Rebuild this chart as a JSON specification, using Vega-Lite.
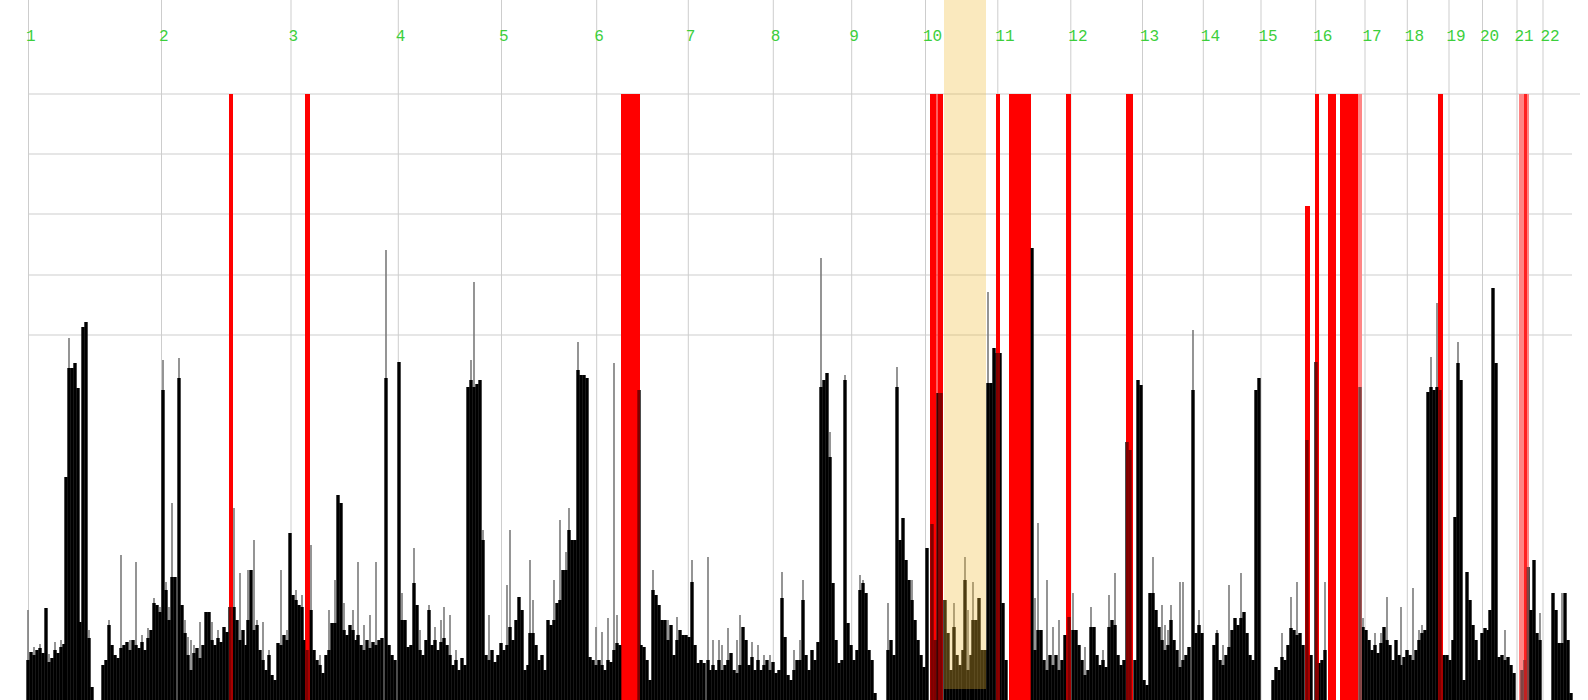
{
  "$schema": "https://vega.github.io/schema/vega-lite/v6.json",
  "width": 1588,
  "height": 700,
  "padding": 0,
  "autosize": {"type": "none"},
  "background": "#ffffff",
  "config": {"view": {"stroke": null}},
  "datasets": {
    "chroms": [
      {"c": "1", "p": 28.5}, {"c": "2", "p": 161.5}, {"c": "3", "p": 291}, {"c": "4", "p": 398.3},
      {"c": "5", "p": 501.5}, {"c": "6", "p": 596.7}, {"c": "7", "p": 688.3}, {"c": "8", "p": 773.3},
      {"c": "9", "p": 851.7}, {"c": "10", "p": 925.5}, {"c": "11", "p": 997.8}, {"c": "12", "p": 1070.8},
      {"c": "13", "p": 1142.5}, {"c": "14", "p": 1203.3}, {"c": "15", "p": 1261}, {"c": "16", "p": 1315.7},
      {"c": "17", "p": 1365}, {"c": "18", "p": 1407.3}, {"c": "19", "p": 1449}, {"c": "20", "p": 1482.5},
      {"c": "21", "p": 1517}, {"c": "22", "p": 1543}
    ],
    "grid": [
      {"g": 606, "a": 28.5, "b": 1580},
      {"g": 546, "a": 28.5, "b": 1572},
      {"g": 486, "a": 28.5, "b": 1572},
      {"g": 425, "a": 28.5, "b": 1572},
      {"g": 365, "a": 28.5, "b": 1572}
    ],
    "reds": [
      {"s": 229, "e": 233, "t": 606, "k": "r"},
      {"s": 305, "e": 310, "t": 606, "k": "r"},
      {"s": 621, "e": 640, "t": 606, "k": "r"},
      {"s": 930, "e": 936.5, "t": 606, "k": "r"},
      {"s": 937.5, "e": 943, "t": 606, "k": "r"},
      {"s": 996, "e": 1000, "t": 606, "k": "r"},
      {"s": 1009, "e": 1031, "t": 606, "k": "r"},
      {"s": 1066, "e": 1071, "t": 606, "k": "r"},
      {"s": 1126, "e": 1133, "t": 606, "k": "r"},
      {"s": 1305, "e": 1310, "t": 494, "k": "r"},
      {"s": 1315, "e": 1319, "t": 606, "k": "r"},
      {"s": 1328, "e": 1336, "t": 606, "k": "r"},
      {"s": 1340, "e": 1358, "t": 606, "k": "r"},
      {"s": 1358, "e": 1362, "t": 606, "k": "p"},
      {"s": 1438, "e": 1443, "t": 606, "k": "r"},
      {"s": 1519, "e": 1529, "t": 606, "k": "p"},
      {"s": 1524, "e": 1527, "t": 606, "k": "r"}
    ],
    "band": [{"s": 944, "e": 986, "t": 700, "b": 11}],
    "bars": [
      {"p":28,"v":40,"g":90},{"p":31,"v":48},{"p":34,"v":45,"g":53},{"p":37,"v":50},{"p":40,"v":52,"g":56},
      {"p":43,"v":47},{"p":46,"v":92},{"p":49,"v":38,"g":46},{"p":52,"v":42},{"p":55,"v":50,"g":58},
      {"p":58,"v":47},{"p":61,"v":53,"g":60},{"p":64,"v":56},{"p":66,"v":223},{"p":69,"v":332,"g":362},
      {"p":72,"v":332},{"p":75,"v":337},{"p":78,"v":312},{"p":80,"v":78},{"p":83,"v":373},
      {"p":86,"v":378},{"p":89,"v":62,"g":70},{"p":92,"v":13},
      {"p":103,"v":35},{"p":106,"v":40},{"p":109,"v":75,"g":80},{"p":112,"v":55},{"p":115,"v":45},
      {"p":118,"v":42},{"p":121,"v":52,"g":145},{"p":124,"v":55},{"p":127,"v":58},{"p":130,"v":50,"g":60},
      {"p":133,"v":60},{"p":136,"v":55,"g":138},{"p":139,"v":52},{"p":142,"v":58,"g":65},{"p":145,"v":50},
      {"p":148,"v":62,"g":72},{"p":151,"v":70},{"p":154,"v":97,"g":102},{"p":157,"v":95},{"p":160,"v":88,"g":93},
      {"p":163,"v":310,"g":340},{"p":166,"v":110,"g":118},{"p":169,"v":80,"g":93},{"p":172,"v":123,"g":197},
      {"p":175,"v":123},{"p":179,"v":322,"g":342},{"p":182,"v":95},{"p":185,"v":67,"g":80},{"p":188,"v":45,"g":63},
      {"p":191,"v":30,"g":60},{"p":194,"v":47,"g":55},{"p":197,"v":52},{"p":200,"v":42,"g":78},{"p":203,"v":55},
      {"p":206,"v":88},{"p":209,"v":88},{"p":212,"v":60,"g":78},{"p":215,"v":55},{"p":218,"v":62,"g":70},
      {"p":221,"v":58},{"p":224,"v":73},{"p":227,"v":68},{"p":230,"v":93},{"p":234,"v":93,"g":192},
      {"p":237,"v":80},{"p":240,"v":60,"g":127},{"p":243,"v":70},{"p":246,"v":55},{"p":248,"v":80,"g":130},
      {"p":251,"v":130},{"p":254,"v":70,"g":160},{"p":257,"v":75,"g":80},{"p":260,"v":50},{"p":263,"v":40,"g":78},
      {"p":266,"v":30},{"p":269,"v":45,"g":50},{"p":272,"v":25},{"p":275,"v":20},{"p":278,"v":57},
      {"p":281,"v":55,"g":130},{"p":284,"v":65},{"p":287,"v":60,"g":70},{"p":290,"v":167},{"p":293,"v":105},
      {"p":296,"v":100,"g":110},{"p":299,"v":95},{"p":302,"v":93,"g":105},{"p":304,"v":60},{"p":307,"v":50},
      {"p":311,"v":90,"g":155},{"p":314,"v":50},{"p":317,"v":40},{"p":320,"v":35,"g":45},{"p":323,"v":27},
      {"p":326,"v":45},{"p":329,"v":50,"g":90},{"p":332,"v":77},{"p":335,"v":77,"g":120},{"p":338,"v":205},
      {"p":341,"v":197},{"p":344,"v":70,"g":97},{"p":347,"v":65},{"p":350,"v":75},{"p":353,"v":70,"g":90},
      {"p":356,"v":60},{"p":358,"v":65,"g":138},{"p":361,"v":55},{"p":364,"v":50,"g":75},{"p":367,"v":60},
      {"p":370,"v":52,"g":85},{"p":373,"v":58},{"p":376,"v":55,"g":138},{"p":379,"v":60},{"p":382,"v":62},
      {"p":386,"v":322,"g":450},{"p":389,"v":55},{"p":392,"v":45},{"p":395,"v":40},{"p":399,"v":338},
      {"p":402,"v":80,"g":107},{"p":405,"v":80},{"p":408,"v":53},{"p":411,"v":55},{"p":414,"v":117,"g":152},
      {"p":417,"v":95},{"p":420,"v":50,"g":70},{"p":423,"v":45},{"p":426,"v":60},{"p":429,"v":90,"g":95},
      {"p":432,"v":55},{"p":435,"v":60,"g":73},{"p":438,"v":50},{"p":441,"v":58,"g":80},{"p":444,"v":62,"g":93},
      {"p":447,"v":55},{"p":450,"v":45,"g":85},{"p":453,"v":35},{"p":456,"v":40,"g":50},{"p":459,"v":30},
      {"p":462,"v":42},{"p":465,"v":35},{"p":468,"v":313},{"p":471,"v":320,"g":340},{"p":474,"v":313,"g":418},
      {"p":477,"v":316},{"p":480,"v":320},{"p":483,"v":160,"g":170},{"p":486,"v":45},{"p":489,"v":40,"g":85},
      {"p":492,"v":50},{"p":495,"v":38},{"p":498,"v":45},{"p":501,"v":57},{"p":504,"v":50},
      {"p":507,"v":55,"g":115},{"p":510,"v":73,"g":170},{"p":513,"v":60},{"p":516,"v":80},{"p":519,"v":103},
      {"p":522,"v":90},{"p":525,"v":30},{"p":528,"v":35},{"p":530,"v":67,"g":140},{"p":533,"v":67,"g":100},
      {"p":536,"v":55},{"p":539,"v":40},{"p":542,"v":45},{"p":545,"v":30},{"p":548,"v":80},
      {"p":551,"v":75},{"p":554,"v":80,"g":120},{"p":557,"v":97},{"p":560,"v":100,"g":180},{"p":563,"v":130},
      {"p":566,"v":130,"g":148},{"p":569,"v":170,"g":192},{"p":572,"v":160},{"p":575,"v":160},{"p":578,"v":330,"g":358},
      {"p":581,"v":325},{"p":584,"v":325},{"p":587,"v":322},{"p":590,"v":43},{"p":593,"v":40},
      {"p":596,"v":35,"g":73},{"p":599,"v":40},{"p":602,"v":35,"g":68},{"p":605,"v":30},{"p":608,"v":40,"g":82},
      {"p":611,"v":38},{"p":614,"v":50,"g":337},{"p":617,"v":57,"g":85},{"p":620,"v":55},
      {"p":639,"v":310},
      {"p":641,"v":55},{"p":644,"v":53},{"p":647,"v":40},{"p":650,"v":20},{"p":653,"v":110,"g":130},
      {"p":656,"v":105},{"p":659,"v":95},{"p":662,"v":80},{"p":665,"v":80},{"p":668,"v":60,"g":80},
      {"p":671,"v":75},{"p":674,"v":45},{"p":677,"v":60,"g":83},{"p":680,"v":70},{"p":683,"v":65},
      {"p":686,"v":65},{"p":689,"v":63},{"p":692,"v":118,"g":140},{"p":695,"v":55},{"p":698,"v":37},
      {"p":701,"v":40},{"p":704,"v":37},{"p":708,"v":40,"g":143},{"p":710,"v":30},
      {"p":713,"v":35,"g":60},{"p":716,"v":30},{"p":719,"v":40,"g":60},{"p":722,"v":30,"g":55},{"p":725,"v":35},
      {"p":728,"v":40,"g":72},{"p":731,"v":47},{"p":734,"v":30},{"p":737,"v":27,"g":60},{"p":740,"v":35,"g":85},
      {"p":743,"v":73},{"p":746,"v":60},{"p":749,"v":35},{"p":752,"v":43,"g":58},{"p":755,"v":30},
      {"p":758,"v":40,"g":55},{"p":761,"v":30},{"p":764,"v":35,"g":45},{"p":767,"v":40},{"p":770,"v":30,"g":45},
      {"p":773,"v":38},{"p":776,"v":27},{"p":779,"v":30},{"p":782,"v":102,"g":128},{"p":785,"v":63},
      {"p":788,"v":25},{"p":791,"v":20},{"p":794,"v":30,"g":50},{"p":797,"v":40},{"p":800,"v":40,"g":60},
      {"p":803,"v":100,"g":120},{"p":806,"v":45},{"p":809,"v":30},{"p":812,"v":50},{"p":815,"v":40},
      {"p":818,"v":58},{"p":821,"v":313,"g":442},{"p":824,"v":320},{"p":827,"v":327},{"p":830,"v":243,"g":268},
      {"p":833,"v":117},{"p":836,"v":60},{"p":839,"v":37},{"p":842,"v":40},{"p":845,"v":320,"g":325},
      {"p":848,"v":77},{"p":851,"v":55},{"p":854,"v":40},{"p":857,"v":50},{"p":860,"v":110,"g":125},
      {"p":863,"v":117,"g":120},{"p":866,"v":107},{"p":869,"v":50},{"p":872,"v":40},{"p":875,"v":7},
      {"p":888,"v":50,"g":97},{"p":891,"v":60},{"p":894,"v":45},{"p":897,"v":313,"g":333},{"p":900,"v":160},
      {"p":903,"v":182},{"p":906,"v":140},{"p":909,"v":120},{"p":912,"v":100,"g":120},{"p":915,"v":80},
      {"p":918,"v":60},{"p":921,"v":45},{"p":924,"v":33},{"p":927,"v":152},{"p":932,"v":176},
      {"p":935,"v":60},{"p":938,"v":307},{"p":941,"v":307},
      {"p":945,"v":100},{"p":948,"v":67},{"p":951,"v":30},{"p":954,"v":73,"g":97},{"p":957,"v":45},
      {"p":960,"v":35},{"p":963,"v":50},{"p":965,"v":120,"g":143},{"p":968,"v":30,"g":90},{"p":971,"v":45},
      {"p":973,"v":80,"g":118},{"p":976,"v":80},{"p":979,"v":102},{"p":982,"v":50},{"p":985,"v":50},
      {"p":988,"v":317,"g":408},{"p":991,"v":317},{"p":994,"v":352},{"p":997,"v":347},{"p":1000,"v":347},
      {"p":1003,"v":97},{"p":1006,"v":40},{"p":1032,"v":452},
      {"p":1035,"v":50,"g":102},{"p":1038,"v":70,"g":177},{"p":1041,"v":70},{"p":1044,"v":40},{"p":1047,"v":30,"g":120},
      {"p":1050,"v":45},{"p":1053,"v":35,"g":73},{"p":1056,"v":45},{"p":1059,"v":30,"g":80},{"p":1062,"v":40},
      {"p":1065,"v":65},{"p":1069,"v":83},{"p":1073,"v":70,"g":107},{"p":1076,"v":70},{"p":1079,"v":55},
      {"p":1082,"v":40},{"p":1085,"v":25,"g":53},{"p":1088,"v":30},{"p":1091,"v":73,"g":93},{"p":1094,"v":73},
      {"p":1097,"v":45},{"p":1100,"v":35},{"p":1103,"v":40,"g":50},{"p":1106,"v":33},{"p":1109,"v":73,"g":105},
      {"p":1112,"v":80},{"p":1115,"v":75,"g":127},{"p":1118,"v":45},{"p":1121,"v":35},{"p":1124,"v":40},
      {"p":1127,"v":258},{"p":1130,"v":250},{"p":1135,"v":40},{"p":1138,"v":320},{"p":1141,"v":315},
      {"p":1144,"v":20},{"p":1147,"v":15},{"p":1150,"v":107},{"p":1153,"v":107,"g":143},{"p":1156,"v":90},
      {"p":1159,"v":73},{"p":1162,"v":60,"g":95},{"p":1165,"v":50,"g":75},{"p":1168,"v":55,"g":70},
      {"p":1171,"v":80,"g":95},{"p":1174,"v":60},{"p":1177,"v":50},{"p":1180,"v":33,"g":118},{"p":1183,"v":40,"g":118},
      {"p":1186,"v":45},{"p":1189,"v":53},{"p":1193,"v":310,"g":370},{"p":1196,"v":67},{"p":1199,"v":75,"g":90},
      {"p":1202,"v":67},{"p":1214,"v":55},{"p":1217,"v":67,"g":70},{"p":1220,"v":40},{"p":1223,"v":35,"g":55},
      {"p":1226,"v":45},{"p":1229,"v":53,"g":115},{"p":1232,"v":70},{"p":1235,"v":82},{"p":1238,"v":75},
      {"p":1241,"v":82,"g":127},{"p":1244,"v":88},{"p":1247,"v":67},{"p":1250,"v":45},{"p":1253,"v":40},
      {"p":1256,"v":310},{"p":1259,"v":322},
      {"p":1273,"v":20},{"p":1276,"v":33},{"p":1279,"v":30},{"p":1282,"v":43,"g":67},{"p":1285,"v":40},
      {"p":1288,"v":55},{"p":1291,"v":72,"g":103},{"p":1294,"v":70},{"p":1297,"v":65,"g":118},{"p":1300,"v":67},
      {"p":1303,"v":55},{"p":1307,"v":260},{"p":1311,"v":45},{"p":1316,"v":338},{"p":1319,"v":37},
      {"p":1322,"v":40},{"p":1325,"v":50,"g":118},{"p":1360,"v":313},
      {"p":1363,"v":73,"g":82},{"p":1366,"v":70},{"p":1369,"v":60},{"p":1372,"v":50},{"p":1375,"v":55,"g":67},
      {"p":1378,"v":47},{"p":1381,"v":57,"g":67},{"p":1384,"v":73},{"p":1387,"v":60,"g":103},{"p":1390,"v":55},
      {"p":1393,"v":40},{"p":1396,"v":60},{"p":1399,"v":45},
      {"p":1401,"v":35,"g":93},{"p":1404,"v":43},{"p":1407,"v":50},{"p":1410,"v":45},{"p":1413,"v":40,"g":112},
      {"p":1416,"v":50},{"p":1419,"v":60,"g":70},{"p":1422,"v":67,"g":75},{"p":1425,"v":70},{"p":1428,"v":308},
      {"p":1431,"v":313,"g":343},{"p":1434,"v":310},{"p":1437,"v":313,"g":397},{"p":1440,"v":310},
      {"p":1444,"v":45},{"p":1447,"v":45},{"p":1450,"v":40},{"p":1453,"v":60},{"p":1455,"v":183},
      {"p":1458,"v":337,"g":358},{"p":1461,"v":320},{"p":1464,"v":20},{"p":1467,"v":128},{"p":1470,"v":100},
      {"p":1473,"v":75},{"p":1476,"v":60},{"p":1479,"v":40},{"p":1482,"v":67},{"p":1485,"v":72},
      {"p":1488,"v":70},{"p":1490,"v":90},{"p":1493,"v":412},{"p":1496,"v":337},{"p":1499,"v":43},
      {"p":1502,"v":45},{"p":1505,"v":40,"g":70},{"p":1508,"v":43},{"p":1511,"v":35},{"p":1514,"v":27},
      {"p":1522,"v":30},{"p":1525,"v":40},{"p":1528,"v":133},{"p":1531,"v":90},{"p":1534,"v":140},
      {"p":1537,"v":67},{"p":1540,"v":60,"g":87},
      {"p":1553,"v":107},{"p":1556,"v":90},{"p":1559,"v":57},{"p":1562,"v":57,"g":107},{"p":1565,"v":107},
      {"p":1568,"v":60},{"p":1571,"v":7}
    ]
  },
  "layer": [
    {
      "data": {"name": "chroms"},
      "mark": {"type": "rule", "color": "#cdcdcd", "strokeWidth": 1},
      "encoding": {
        "x": {"field": "p", "type": "quantitative", "scale": {"domain": [0, 1588], "nice": false, "zero": false, "padding": 0}, "axis": null}
      }
    },
    {
      "data": {"name": "grid"},
      "mark": {"type": "rule", "color": "#cdcdcd", "strokeWidth": 1},
      "encoding": {
        "x": {"field": "a", "type": "quantitative", "scale": {"domain": [0, 1588], "nice": false, "zero": false, "padding": 0}, "axis": null},
        "x2": {"field": "b"},
        "y": {"field": "g", "type": "quantitative", "scale": {"domain": [0, 700], "nice": false}, "axis": null}
      }
    },
    {
      "data": {"name": "reds"},
      "mark": {"type": "rect"},
      "encoding": {
        "x": {"field": "s", "type": "quantitative", "scale": {"domain": [0, 1588], "nice": false, "zero": false, "padding": 0}, "axis": null},
        "x2": {"field": "e"},
        "y": {"field": "t", "type": "quantitative", "scale": {"domain": [0, 700], "nice": false}, "axis": null},
        "y2": {"datum": 0},
        "color": {"field": "k", "type": "nominal", "scale": {"domain": ["r", "p"], "range": ["#ff0000", "#ff8585"]}, "legend": null}
      }
    },
    {
      "data": {"name": "bars"},
      "mark": {"type": "bar", "width": 1.6, "color": "#7a7a7a"},
      "encoding": {
        "x": {"field": "p", "type": "quantitative", "scale": {"domain": [0, 1588], "nice": false, "zero": false, "padding": 0}, "axis": null},
        "y": {"field": "g", "type": "quantitative", "scale": {"domain": [0, 700], "nice": false}, "axis": null}
      }
    },
    {
      "data": {"name": "bars"},
      "mark": {"type": "bar", "width": 3.4, "color": "#000000"},
      "encoding": {
        "x": {"field": "p", "type": "quantitative", "scale": {"domain": [0, 1588], "nice": false, "zero": false, "padding": 0}, "axis": null},
        "y": {"field": "v", "type": "quantitative", "scale": {"domain": [0, 700], "nice": false}, "axis": null}
      }
    },
    {
      "data": {"name": "reds"},
      "mark": {"type": "rect", "opacity": 0.5},
      "encoding": {
        "x": {"field": "s", "type": "quantitative", "scale": {"domain": [0, 1588], "nice": false, "zero": false, "padding": 0}, "axis": null},
        "x2": {"field": "e"},
        "y": {"field": "t", "type": "quantitative", "scale": {"domain": [0, 700], "nice": false}, "axis": null},
        "y2": {"datum": 0},
        "color": {"field": "k", "type": "nominal", "scale": {"domain": ["r", "p"], "range": ["#ff0000", "#ff8585"]}, "legend": null}
      }
    },
    {
      "data": {"name": "band"},
      "mark": {"type": "rect", "color": "#efbb34", "opacity": 0.32},
      "encoding": {
        "x": {"field": "s", "type": "quantitative", "scale": {"domain": [0, 1588], "nice": false, "zero": false, "padding": 0}, "axis": null},
        "x2": {"field": "e"},
        "y": {"field": "t", "type": "quantitative", "scale": {"domain": [0, 700], "nice": false}, "axis": null},
        "y2": {"field": "b"}
      }
    },
    {
      "data": {"name": "chroms"},
      "mark": {"type": "text", "align": "left", "baseline": "middle", "dx": -2.5, "font": "Liberation Mono", "fontSize": 16, "color": "#3ccf3c"},
      "encoding": {
        "x": {"field": "p", "type": "quantitative", "scale": {"domain": [0, 1588], "nice": false, "zero": false, "padding": 0}, "axis": null},
        "y": {"datum": 664, "type": "quantitative", "scale": {"domain": [0, 700], "nice": false}, "axis": null},
        "text": {"field": "c"}
      }
    }
  ]
}
